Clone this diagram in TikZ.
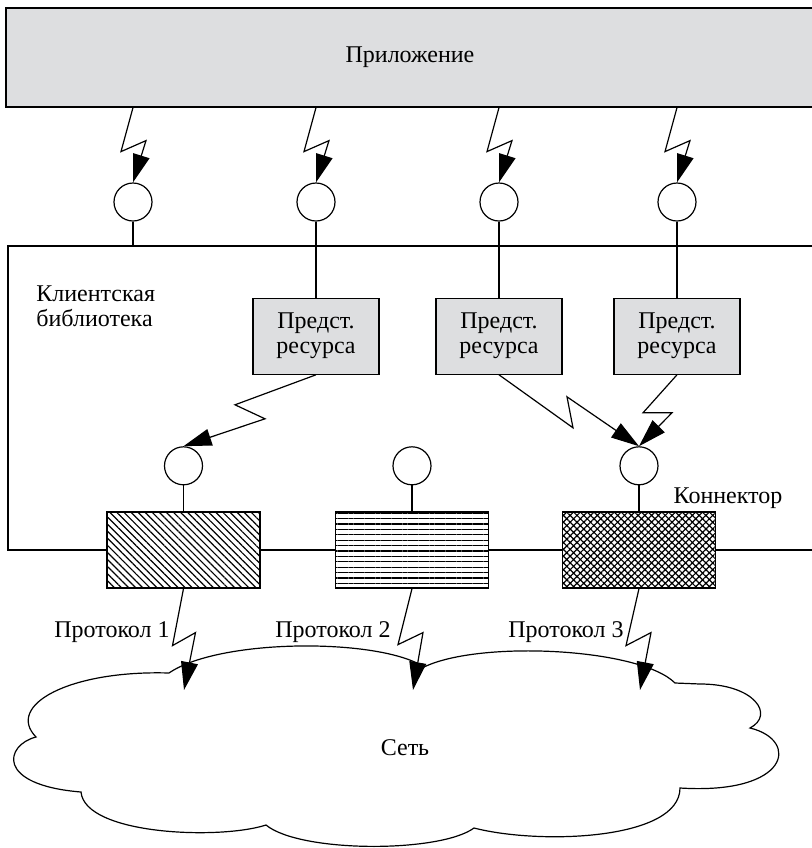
\documentclass[tikz,border=0pt]{standalone}
\usepackage{fontspec}
\setmainfont{Liberation Serif}
\usepackage{tikz}
\usetikzlibrary{arrows.meta,patterns.meta,positioning}
\definecolor{boxgray}{RGB}{221,222,224}
\tikzset{
    lbl/.style={font=\fontsize{12}{12.5}\selectfont},
    port/.style={circle,draw,semithick,fill=white,minimum size=19pt,inner sep=0pt},
    resbox/.style={rectangle,draw,semithick,fill=boxgray,minimum width=63pt,minimum height=38pt,align=center,lbl},
    connbox/.style={rectangle,draw,semithick,minimum width=76.5pt,minimum height=38pt},
    zap/.style={-{Triangle[length=14pt,width=8.5pt]},semithick},
    link/.style={-,semithick}
}

\begin{document}
\begin{tikzpicture}[x=0.5pt,y=-0.5pt]

                \useasboundingbox (0,0) rectangle (812,848);
                \clip (0,0) rectangle (812,848);

                \node[draw,semithick,fill=boxgray,minimum width=404pt,minimum height=49.5pt,lbl] (app) at (410,57.5) {Приложение};

                \node[port] (t1) at (133,202) {};
                \node[port] (t2) at (316,202) {};
                \node[port] (t3) at (499,202) {};
                \node[port] (t4) at (677,202) {};

                \coordinate (lib nw) at (8,246);
                \coordinate (lib ne) at (816,246);
                \coordinate (lib sw) at (8,550);
                \coordinate (lib se) at (816,550);

                \node[resbox] (res1) [below=38pt of t2] {Предст.\\ресурса};
                \node[resbox] (res2) [below=38pt of t3] {Предст.\\ресурса};
                \node[resbox] (res3) [below=38pt of t4] {Предст.\\ресурса};

                \node[lbl,align=left,anchor=north west,inner sep=0pt] (libname) at (36,285) {Клиентская\\библиотека};

                \node[connbox,pattern={Lines[angle=-45,distance=2.5pt,line width=0.6pt]}] (conn1) at (183.5,550) {};
                \node[connbox,pattern={Lines[angle=0,distance=2.7pt,line width=0.6pt]}]   (conn2) at (412,550)   {};
                \node[connbox,pattern={Hatch[angle=45,distance=2.4pt,line width=0.6pt]}]  (conn3) at (639,550)   {};

                \node[port] (c1) [above=13pt of conn1] {};
                \node[port] (c2) [above=13pt of conn2] {};
                \node[port] (c3) [above=13pt of conn3] {};

                \node[lbl] (conname) at (728,498) {Коннектор};

                \node[lbl] (proto1) at (112,632) {Протокол 1};
                \node[lbl] (proto2) at (333,632) {Протокол 2};
                \node[lbl] (proto3) at (566,632) {Протокол 3};

                \node[lbl] (netname) at (405,748) {Сеть};

                \coordinate (net1) at (184,690);
                \coordinate (net2) at (413,690);
                \coordinate (net3) at (640,690);

                \draw[link] (lib ne) -- (lib nw) -- (lib sw) -- (conn1);
                \draw[link] (conn1) -- (conn2);
                \draw[link] (conn2) -- (conn3);
                \draw[link] (conn3) -- (lib se);

                \draw[link] (t1) -- (t1 |- lib nw);
                \draw[link] (t2) -- (res1);
                \draw[link] (t3) -- (res2);
                \draw[link] (t4) -- (res3);

                \draw[link] (c1) -- (conn1);
                \draw[link] (c2) -- (conn2);
                \draw[link] (c3) -- (conn3);

                \draw[zap] (app.south -| t1) -- ++(-12,44) -- ++(25,-11) -- (t1.north);
                \draw[zap] (app.south -| t2) -- ++(-12,44) -- ++(25,-11) -- (t2.north);
                \draw[zap] (app.south -| t3) -- ++(-12,44) -- ++(25,-11) -- (t3.north);
                \draw[zap] (app.south -| t4) -- ++(-12,44) -- ++(25,-11) -- (t4.north);

                \draw[zap] (res1.south) -- ++(-81,30) -- ++(30,14) -- (c1.north);
                \draw[zap] (res2.south) -- ++(74,53) -- ++(-6,-31) -- (c3.north);
                \draw[zap] (res3.south) -- ++(-34,38) -- ++(29,0) -- (c3.north);

                \draw[zap] (conn1.south) -- ++(-11,57) -- ++(23,-13) -- (net1);
                \draw[zap] (conn2.south) -- ++(-14,56) -- ++(25,-12) -- (net2);
                \draw[zap] (conn3.south) -- ++(-13,57) -- ++(25,-13) -- (net3);

                \draw[link] (169,673) .. controls (70,670) and (5,705) .. (36,737)
                    .. controls (5,745) and (-5,785) .. (81,792)
                    .. controls (85,835) and (220,840) .. (266,825)
                    .. controls (300,853) and (440,853) .. (474,828)
                    .. controls (540,845) and (680,840) .. (680,788)
                    .. controls (790,795) and (800,740) .. (750,728)
                    .. controls (775,715) and (755,684) .. (700,684)
                    -- (675,683)
                    .. controls (640,648) and (480,640) .. (424,667)
                    .. controls (380,638) and (220,638) .. (169,673) -- cycle;

            \end{tikzpicture}
\end{document}
